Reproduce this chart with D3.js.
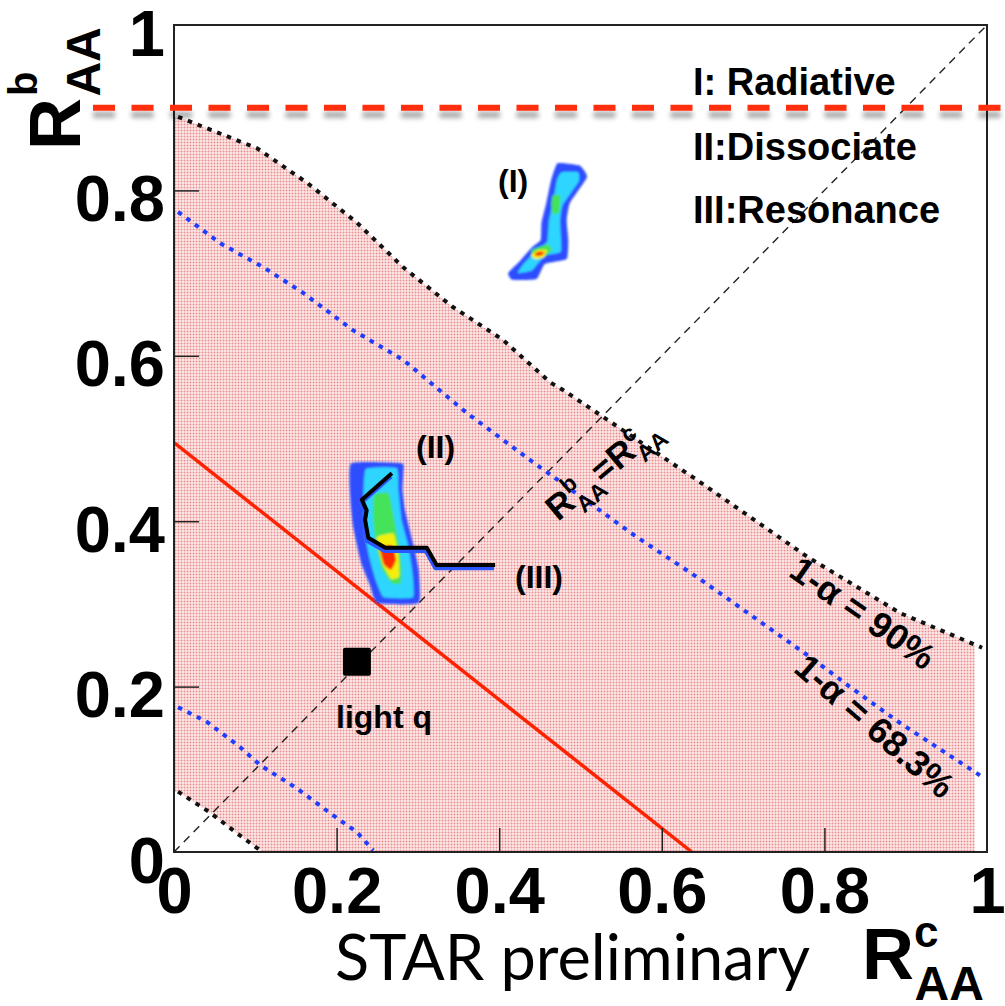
<!DOCTYPE html>
<html><head><meta charset="utf-8">
<script src="https://cdn.jsdelivr.net/npm/d3@7"></script>
<style>body{margin:0;background:#fff}svg{display:block}</style>
</head><body><svg id="c" width="1005" height="1006"></svg>
<script>
// ---------------- data ----------------
const xTicks = [0, 0.2, 0.4, 0.6, 0.8, 1];
const yTicks = [0, 0.2, 0.4, 0.6, 0.8, 1];
const xTickLabels = ["0", "0.2", "0.4", "0.6", "0.8", "1"];
const yTickLabels = ["0", "0.2", "0.4", "0.6", "0.8", "1"];
const radiativeCut = 0.9;               // horizontal red dashed line R^b_AA
const pinkRightEdge = 0.985;            // last filled bin in R^c_AA
// 1-alpha = 90% contour (black dotted)
const upper90 = [[0.005,0.889],[0.102,0.851],[0.164,0.809],[0.225,0.761],[0.282,0.707],[0.343,0.659],[0.405,0.619],[0.4625,0.568],[0.478,0.559],[0.643,0.450],[0.779,0.357],[0.893,0.289],[0.994,0.247]];
const lower90 = [[0.005,0.073],[0.044,0.048],[0.077,0.023],[0.106,0.002]];
// 1-alpha = 68.3% contour (blue dotted)
const upper68 = [[0.005,0.774],[0.057,0.736],[0.110,0.707],[0.159,0.676],[0.220,0.631],[0.282,0.595],[0.360,0.531],[0.438,0.474],[0.569,0.381],[0.647,0.330],[0.782,0.236],[0.831,0.200],[0.893,0.156],[0.994,0.091]];
const lower68 = [[0.005,0.175],[0.041,0.157],[0.081,0.127],[0.106,0.105],[0.151,0.077],[0.192,0.047],[0.225,0.024],[0.245,0.002]];
// red solid line
const redLine = [[0,0.495],[0.637,0]];
// diagonal R^b = R^c
const diagonal = [[0,0],[1,1]];
// light quark point
const lightQ = [0.225, 0.230];
// model (III) trajectory
const modelIII = [[0.268,0.458],[0.231,0.426],[0.237,0.413],[0.235,0.402],[0.239,0.380],[0.260,0.368],[0.311,0.368],[0.323,0.347],[0.395,0.347]];
// model (I) density levels
const blobI_blue = [[0.472,0.833],[0.499,0.830],[0.508,0.816],[0.487,0.785],[0.483,0.764],[0.485,0.740],[0.483,0.717],[0.456,0.711],[0.446,0.693],[0.416,0.692],[0.411,0.700],[0.424,0.713],[0.440,0.731],[0.451,0.740],[0.452,0.761],[0.458,0.785],[0.464,0.813]];
const blobI_cyan = [[0.477,0.822],[0.497,0.822],[0.498,0.811],[0.478,0.782],[0.475,0.762],[0.476,0.726],[0.456,0.721],[0.440,0.703],[0.423,0.700],[0.429,0.710],[0.446,0.728],[0.459,0.738],[0.461,0.762],[0.466,0.785],[0.471,0.813]];
const blobI_green = [[[0.466,0.794],[0.475,0.794],[0.474,0.774],[0.466,0.771],[0.464,0.783]],[[0.440,0.728],[0.460,0.735],[0.465,0.728],[0.456,0.720],[0.442,0.719]]];
const blobI_yellow = [[0.439,0.722],[0.448,0.728],[0.459,0.728],[0.455,0.719],[0.444,0.717]];
const blobI_red = [[0.444,0.724],[0.450,0.726],[0.456,0.725],[0.451,0.721],[0.445,0.721]];
// model (II) density levels
const blobII_blue = [[0.218,0.470],[0.280,0.470],[0.282,0.459],[0.281,0.438],[0.284,0.414],[0.290,0.389],[0.296,0.365],[0.301,0.341],[0.301,0.301],[0.250,0.301],[0.241,0.323],[0.231,0.347],[0.225,0.371],[0.220,0.395],[0.217,0.426]];
const blobII_cyan = [[0.236,0.463],[0.274,0.464],[0.276,0.438],[0.280,0.401],[0.288,0.371],[0.293,0.341],[0.294,0.308],[0.258,0.308],[0.248,0.329],[0.241,0.353],[0.235,0.383],[0.233,0.426]];
const blobII_green = [[0.246,0.432],[0.264,0.434],[0.270,0.407],[0.276,0.377],[0.280,0.347],[0.279,0.325],[0.268,0.325],[0.256,0.342],[0.249,0.367],[0.245,0.401]];
const blobII_yellow = [[0.250,0.381],[0.270,0.385],[0.276,0.359],[0.277,0.333],[0.267,0.330],[0.257,0.347],[0.252,0.365]];
const blobII_red = [[0.253,0.369],[0.269,0.370],[0.273,0.353],[0.267,0.341],[0.258,0.348]];
const legendLines = ["I: Radiative", "II:Dissociate", "III:Resonance"];

// ---------------- drawing ----------------
const W = 1005, H = 1006;
const M = {left: 174, right: 987, top: 25, bottom: 852};
const x = d3.scaleLinear().domain([0, 1]).range([M.left, M.right]);
const y = d3.scaleLinear().domain([0, 1]).range([M.bottom, M.top]);
const svg = d3.select("#c");
const FONT = "'Liberation Sans', Arial, Helvetica, sans-serif";
const defs = svg.append("defs");

const pat = defs.append("pattern").attr("id", "dots").attr("width", 3).attr("height", 3).attr("patternUnits", "userSpaceOnUse");
pat.append("rect").attr("width", 3).attr("height", 3).attr("fill", "#ffffff");
pat.append("rect").attr("x", 0.5).attr("y", 0.5).attr("width", 2).attr("height", 2).attr("fill", "#eb8c8c");

defs.append("clipPath").attr("id", "plotclip").append("rect")
  .attr("x", M.left).attr("y", M.top).attr("width", M.right - M.left).attr("height", M.bottom - M.top);
defs.append("clipPath").attr("id", "pinkclip").append("rect")
  .attr("x", M.left).attr("y", M.top).attr("width", x(pinkRightEdge) - M.left).attr("height", M.bottom - M.top);

const sh = defs.append("filter").attr("id", "shadow").attr("filterUnits", "userSpaceOnUse")
  .attr("x", 0).attr("y", 0).attr("width", W).attr("height", H);
sh.append("feDropShadow").attr("dx", 0).attr("dy", 7).attr("stdDeviation", 2.5).attr("flood-color", "#000").attr("flood-opacity", 0.35);
const bl = defs.append("filter").attr("id", "soft");
bl.append("feGaussianBlur").attr("stdDeviation", 0.9);

const line = d3.line().x(d => x(d[0])).y(d => y(d[1]));
const closedShape = d3.line().x(d => x(d[0])).y(d => y(d[1])).curve(d3.curveCardinalClosed.tension(0.6));

// pink allowed region
const pinkPoly = [[0, upper90[0][1]], ...upper90, [upper90[upper90.length - 1][0], 0],
  [lower90[lower90.length - 1][0], 0], ...lower90.slice().reverse(), [0, lower90[0][1]]];
svg.append("path").attr("d", line(pinkPoly) + "Z").attr("fill", "url(#dots)").attr("clip-path", "url(#pinkclip)");

const plot = svg.append("g").attr("clip-path", "url(#plotclip)");
// diagonal
plot.append("path").attr("d", line(diagonal)).attr("fill", "none").attr("stroke", "#222").attr("stroke-width", 1.4).attr("stroke-dasharray", "8,6");
// contours
[upper90, lower90].forEach(c => plot.append("path").attr("d", line(c)).attr("fill", "none")
  .attr("stroke", "#111").attr("stroke-width", 4).attr("stroke-dasharray", "4.5,6"));
[upper68, lower68].forEach(c => plot.append("path").attr("d", line(c)).attr("fill", "none")
  .attr("stroke", "#1f3cff").attr("stroke-width", 4).attr("stroke-dasharray", "4.5,6"));
// red solid line
plot.append("path").attr("d", line(redLine)).attr("fill", "none").attr("stroke", "#ff2200").attr("stroke-width", 3.5);

// blobs
const levelColors = {blue: "#2f4dff", cyan: "#2fd5ff", green: "#45e35a", yellow: "#f2ef10", red: "#ff2a00"};
function drawBlob(levels) {
  const g = plot.append("g").attr("filter", "url(#soft)");
  levels.forEach(([polys, col]) => polys.forEach(p =>
    g.append("path").attr("d", closedShape(p)).attr("fill", levelColors[col])));
}
drawBlob([[[blobI_blue], "blue"], [[blobI_cyan], "cyan"], [blobI_green, "green"], [[blobI_yellow], "yellow"], [[blobI_red], "red"]]);
drawBlob([[[blobII_blue], "blue"], [[blobII_cyan], "cyan"], [[blobII_green], "green"], [[blobII_yellow], "yellow"], [[blobII_red], "red"]]);

// model III trajectory (blue underlay + black line)
plot.append("path").attr("d", line(modelIII)).attr("transform", "translate(-1,3)").attr("fill", "none")
  .attr("stroke", "#2a55ff").attr("stroke-width", 4.5).attr("stroke-linejoin", "round");
plot.append("path").attr("d", line(modelIII)).attr("fill", "none")
  .attr("stroke", "#000").attr("stroke-width", 4).attr("stroke-linejoin", "round");

// light q marker
plot.append("rect").attr("x", x(lightQ[0]) - 14).attr("y", y(lightQ[1]) - 14).attr("width", 28).attr("height", 28)
  .attr("rx", 2).attr("fill", "#000");

// axes
const xAxis = svg.append("g").attr("transform", `translate(0,${M.bottom})`)
  .call(d3.axisBottom(x).tickValues(xTicks).tickFormat((d, i) => xTickLabels[i]).tickSizeInner(-24).tickSizeOuter(0));
xAxis.select(".domain").remove();
xAxis.selectAll(".tick line").attr("stroke", "#222").attr("stroke-width", 1.5);
xAxis.selectAll(".tick text").attr("y", 61).attr("dy", 0).attr("fill", "#000")
  .attr("font-family", FONT).attr("font-weight", "bold").attr("font-size", 65);
xAxis.selectAll(".tick").filter(d => d === 0 || d === 1).select("line").remove();

const yAxis = svg.append("g").attr("transform", `translate(${M.left},0)`)
  .call(d3.axisLeft(y).tickValues(yTicks).tickFormat((d, i) => yTickLabels[i]).tickSizeInner(-25).tickSizeOuter(0));
yAxis.select(".domain").remove();
yAxis.selectAll(".tick line").attr("stroke", "#222").attr("stroke-width", 1.5);
yAxis.selectAll(".tick text").attr("x", -9).attr("y", 30).attr("dy", 0).attr("fill", "#000")
  .attr("font-family", FONT).attr("font-weight", "bold").attr("font-size", 65);
yAxis.selectAll(".tick").filter(d => d === 0 || d === 1).select("line").remove();

// frame
svg.append("rect").attr("x", M.left).attr("y", M.top).attr("width", M.right - M.left).attr("height", M.bottom - M.top)
  .attr("fill", "none").attr("stroke", "#222").attr("stroke-width", 2);

// labels inside the plot
const txt = (xx, yy, s, size) => svg.append("text").attr("x", xx).attr("y", yy).text(s).attr("font-family", FONT)
  .attr("font-weight", "bold").attr("font-size", size).attr("fill", "#000");
legendLines.forEach((s, i) => txt(693, [95, 160, 223][i], s, 38));
txt(498, 192, "(I)", 32);
txt(416, 458, "(II)", 32);
txt(515, 588, "(III)", 32);
txt(336, 728, "light q", 32);

// rotated confidence labels
svg.append("text").attr("transform", "translate(863,613) rotate(35)").attr("text-anchor", "middle")
  .attr("dominant-baseline", "central").attr("font-family", FONT).attr("font-weight", "bold").attr("font-size", 36)
  .text("1-\u03b1 = 90%");
svg.append("text").attr("transform", "translate(875,726) rotate(41)").attr("text-anchor", "middle")
  .attr("dominant-baseline", "central").attr("font-family", FONT).attr("font-weight", "bold").attr("font-size", 36)
  .text("1-\u03b1 = 68.3%");

// R^b_AA = R^c_AA along diagonal
function rLabel(parent, sup, big, small) {
  parent.append("tspan").attr("font-size", big).text("R");
  const supW = small * (sup === "b" ? 0.611 : 0.556);
  parent.append("tspan").attr("font-size", small).attr("dy", -big * 0.42).text(sup);
  parent.append("tspan").attr("font-size", small).attr("dx", -supW).attr("dy", big * 0.72).text("AA");
}
const eq = svg.append("text").attr("transform", "translate(558,522) rotate(-40)")
  .attr("font-family", FONT).attr("font-weight", "bold").attr("fill", "#000");
rLabel(eq, "b", 35, 23);
eq.append("tspan").attr("font-size", 35).attr("dy", -35 * 0.30).text("=");
rLabel(eq, "c", 35, 23);

// red dashed line at R^b_AA = 0.9 with shadow
svg.append("line").attr("x1", 93).attr("x2", W).attr("y1", y(radiativeCut)).attr("y2", y(radiativeCut))
  .attr("stroke", "#ff2d0a").attr("stroke-width", 6).attr("stroke-dasharray", "22,16.5").attr("filter", "url(#shadow)");

// axis titles
const yt = svg.append("text").attr("transform", "translate(80,150) rotate(-90)")
  .attr("font-family", FONT).attr("font-weight", "bold").attr("fill", "#000");
yt.append("tspan").attr("font-size", 72).text("R");
yt.append("tspan").attr("font-size", 40).attr("dy", -43).attr("dx", 2).text("b");
yt.append("tspan").attr("font-size", 48).attr("dx", -25).attr("dy", 63).text("AA");

const xt = svg.append("text").attr("x", 862).attr("y", 979)
  .attr("font-family", FONT).attr("font-weight", "bold").attr("fill", "#000");
xt.append("tspan").attr("font-size", 72).text("R");
xt.append("tspan").attr("font-size", 44).attr("dy", -32).text("c");
xt.append("tspan").attr("font-size", 48).attr("dx", -24).attr("dy", 53).text("AA");

// STAR preliminary
const star = svg.append("text").attr("x", 335).attr("y", 980).attr("font-family", "Lato, 'Open Sans', sans-serif")
  .attr("font-size", 60).attr("fill", "#000").text("STAR preliminary");
const sw = star.node().getComputedTextLength();
star.attr("font-size", 60 * 475 / sw);
</script></body></html>
